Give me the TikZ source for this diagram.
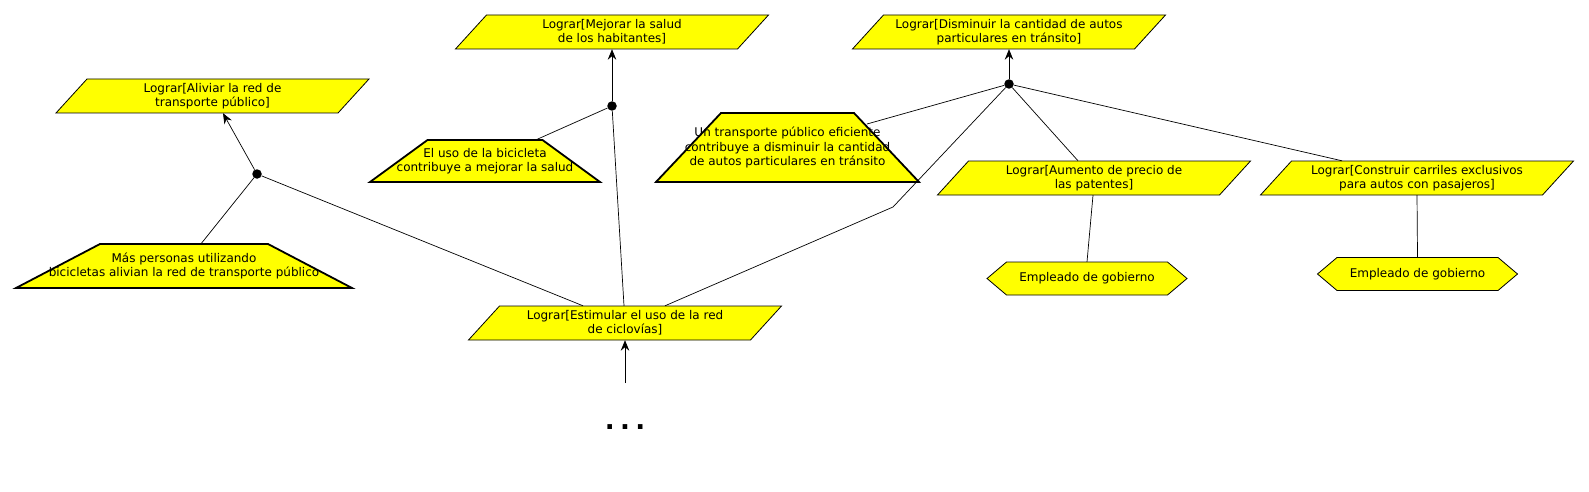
\documentclass[tikz,border=0pt]{standalone}
\usepackage{fontspec}
\setmainfont{DejaVu Sans}
\usetikzlibrary{arrows.meta,calc}
\definecolor{goalyellow}{RGB}{255,255,0}
\tikzset{
  txt/.style={align=center,inner sep=0pt,font=\fontsize{12}{14.2}\selectfont},
  shapefill/.style={fill=goalyellow,draw=black,line width=0.8pt,line join=miter},
  trapfill/.style={fill=goalyellow,draw=black,line width=1.8pt,line join=miter},
  conn/.style={draw=black,line width=0.7pt},
  arr/.style={conn,-{Stealth[length=10.5pt,width=8.5pt,inset=3.5pt]}},
  bullet/.style={circle,fill=black,inner sep=0pt,minimum size=9.5pt}
}
% parallelogram: name, cx, cy, text
\newcommand{\mypgram}[4]{%
  \path[shapefill] ({#2-156.5},{#3+17}) -- ++(282,0) -- ++(31,-34) -- ++(-282,0) -- cycle;
  \node[txt,minimum width=282pt,minimum height=34pt] (#1) at (#2,#3) {#4};}
% trapezoid: name, cx, cy, top half width, bottom half width, half height, text
\newcommand{\mytrap}[7]{%
  \path[trapfill] ({#2-#5},{#3+#6}) -- ({#2+#5},{#3+#6}) -- ({#2+#4},{#3-#6}) -- ({#2-#4},{#3-#6}) -- cycle;
  \node[txt,minimum width={2*#5*1pt},minimum height={2*#6*1pt}] (#1) at (#2,#3) {#7};}
% hexagon: name, cx, cy, text
\newcommand{\myhex}[4]{%
  \path[shapefill] ({#2-100},#3) -- ({#2-80.5},{#3-16.5}) -- ({#2+80.5},{#3-16.5}) -- ({#2+100},#3) -- ({#2+80.5},{#3+16.5}) -- ({#2-80.5},{#3+16.5}) -- cycle;
  \node[txt,minimum width=200pt,minimum height=33pt] (#1) at (#2,#3) {#4};}
\begin{document}
\begin{tikzpicture}[x=1pt,y=-1pt]
\useasboundingbox (0,0) rectangle (1589,492);
% goals
\mypgram{aliviar}{212.5}{96}{Lograr[Aliviar la red de\\transporte público]}
\mypgram{mejorar}{612}{32}{Lograr[Mejorar la salud\\de los habitantes]}
\mypgram{disminuir}{1009}{32}{Lograr[Disminuir la cantidad de autos\\particulares en tránsito]}
\mypgram{aumento}{1094}{178}{Lograr[Aumento de precio de\\las patentes]}
\mypgram{construir}{1417}{178}{Lograr[Construir carriles exclusivos\\para autos con pasajeros]}
\mypgram{estimular}{625}{323}{Lograr[Estimular el uso de la red\\de ciclovías]}
% domain properties
\mytrap{mas}{184}{266}{84}{168}{22}{Más personas utilizando\\bicicletas alivian la red de transporte público}
\mytrap{eluso}{485}{161}{57.5}{115}{21}{El uso de la bicicleta\\contribuye a mejorar la salud}
\mytrap{trans}{787.5}{147.5}{66.5}{131.5}{34.5}{Un transporte público eficiente\\contribuye a disminuir la cantidad\\de autos particulares en tránsito}
% agents
\myhex{emp1}{1087}{278.5}{Empleado de gobierno}
\myhex{emp2}{1417.5}{274}{Empleado de gobierno}
% refinement dots
\node[bullet] (d1) at (257,174) {};
\node[bullet] (d2) at (612,106) {};
\node[bullet] (d3) at (1009,84) {};
\coordinate (bend) at (893,207);
\coordinate (morestart) at (625,383);
\node[anchor=base,inner sep=0pt,font=\fontsize{26}{26}\selectfont\bfseries] (more) at (625,429.5) {.\hspace{5.4pt}.\hspace{5.4pt}.};
% connectors
\draw[arr] (d1) -- ([xshift=10.5pt]aliviar.south);
\draw[conn] ([xshift=17pt]mas.north) -- (d1);
\draw[conn] ([xshift=-42pt]estimular.north) -- (d1);
\draw[arr] (d2) -- (mejorar.south);
\draw[conn] ([xshift=51pt]eluso.north) -- (d2);
\draw[conn] ([xshift=-1pt]estimular.north) -- (d2);
\draw[arr] (d3) -- (disminuir.south);
\draw[conn] ([shift={(79.5,-23.5)}]trans.center) -- (d3);
\draw[conn] ([xshift=40pt]estimular.north) -- (bend) -- (d3);
\draw[conn] ([xshift=-16pt]aumento.north) -- (d3);
\draw[conn] ([xshift=-75pt]construir.north) -- (d3);
\draw[conn] ([xshift=-1pt]aumento.south) -- (emp1.north);
\draw[conn] (construir.south) -- (emp2.north);
\draw[arr] (morestart) -- (estimular.south);
\end{tikzpicture}
\end{document}
